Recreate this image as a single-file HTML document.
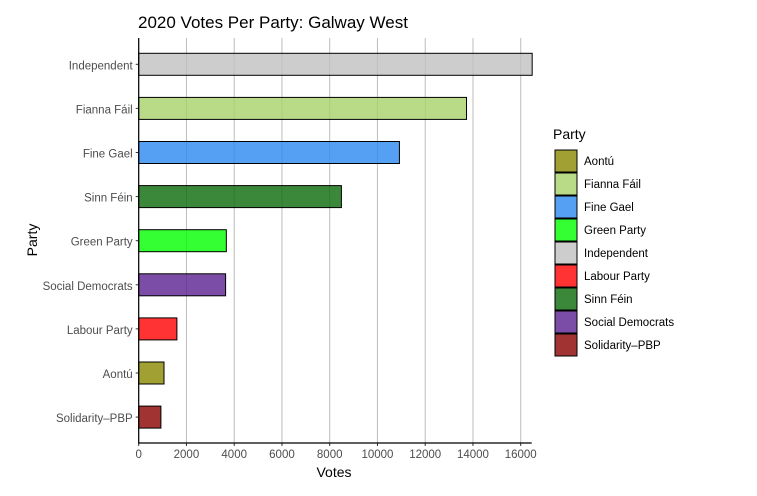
<!DOCTYPE html>
<html><head><meta charset="utf-8"><style>
body{margin:0;background:#fff;font-family:"Liberation Sans",sans-serif}
svg text{font-family:"Liberation Sans",sans-serif}
</style></head><body>
<svg id="c" width="757" height="491">
<text x="138" y="28" font-size="17" fill="#000">2020 Votes Per Party: Galway West</text>
<g id="grid"></g><g id="bars"></g><g id="axes"></g><g id="legend"></g>
<text x="334" y="477" font-size="14" text-anchor="middle">Votes</text>
<text transform="translate(37,240) rotate(-90)" font-size="14" text-anchor="middle">Party</text>
</svg>
<script>
const categories=["Independent","Fianna Fáil","Fine Gael","Sinn Féin","Green Party","Social Democrats","Labour Party","Aontú","Solidarity–PBP"];
const votes=[16480,13730,10920,8490,3670,3640,1600,1060,930];
const colors=["#c0c0c0","#a8d26a","#2a88f0","#0a6a0a","#00ff00","#5a2090","#ff0000","#8a8a00","#8b0000"];
const ticks=[0,2000,4000,6000,8000,10000,12000,14000,16000];
const legendNames=["Aontú","Fianna Fáil","Fine Gael","Green Party","Independent","Labour Party","Sinn Féin","Social Democrats","Solidarity–PBP"];
const legendColors=["#8a8a00","#a8d26a","#2a88f0","#00ff00","#c0c0c0","#ff0000","#0a6a0a","#5a2090","#8b0000"];
const NS="http://www.w3.org/2000/svg";
const x0=138.7,x1=531.7,y0=38,y1=443,xmax=16460;
const X=v=>x0+(x1-x0)*v/xmax;
const Y=i=>64.3+44.1*i;
function mk(p,t,a){const e=document.createElementNS(NS,t);for(const k in a)e.setAttribute(k,a[k]);document.getElementById(p).appendChild(e);return e;}
ticks.forEach(t=>{
 const g=mk('grid','line',{x1:X(t),x2:X(t),y1:y0,y2:y1,stroke:'#bdbdbd','stroke-width':1});
 
 
 const tk=mk('axes','line',{x1:X(t),x2:X(t),y1:y1,y2:y1+3,stroke:'#333'});
 
 
 const l=mk('axes','text',{x:X(t),y:y1+15,'font-size':11.5,fill:'#4d4d4d','text-anchor':'middle'});
 l.textContent=t;
 
 
});
categories.forEach((c,i)=>{
 const r=mk('bars','rect',{x:x0,y:Y(i)-11,width:X(votes[i])-x0,height:22,fill:colors[i],'fill-opacity':0.8,stroke:'#000','stroke-width':1});
 
 
 const tk=mk('axes','line',{x1:x0-3,x2:x0,y1:Y(i),y2:Y(i),stroke:'#333'});
 
 
 const l=mk('axes','text',{x:x0-6,y:Y(i)+5,'font-size':11.5,fill:'#4d4d4d','text-anchor':'end'});
 l.textContent=c;
 
 
});
const ax=mk('axes','path',{d:`M${x0},${y0}V${y1}H${x1}`,fill:'none',stroke:'#000','stroke-width':1.2});


const lt=mk('legend','text',{x:553,y:139,'font-size':14});
lt.textContent='Party';


legendNames.forEach((n,i)=>{
 const y=150+23*i;
 const r=mk('legend','rect',{x:555,y:y,width:22,height:22,fill:legendColors[i],'fill-opacity':0.8,stroke:'#000'});
 
 
 const t=mk('legend','text',{x:584,y:y+15,'font-size':11.5});
 t.textContent=n;
 
 
});
</script>
</body></html>
